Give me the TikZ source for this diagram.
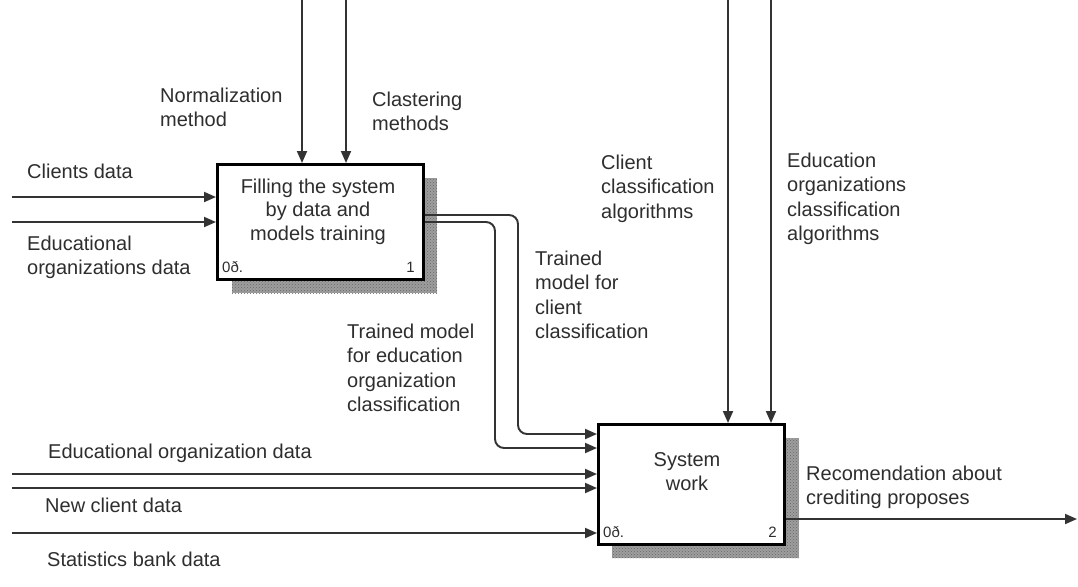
\documentclass[tikz,border=0pt]{standalone}
\usepackage{fontspec}
\setmainfont{Liberation Sans}
\usetikzlibrary{arrows.meta,calc,patterns}
\begin{document}
\begin{tikzpicture}[x=1pt,y=-1pt,
  lbl/.style={anchor=north west,inner sep=0pt,align=left,text=black!82,font=\fontsize{20}{24.5}\selectfont},
  boxtxt/.style={anchor=north,inner sep=0pt,align=center,text=black!82,font=\fontsize{20}{23.5}\selectfont},
  small/.style={inner sep=0pt,text=black!82,font=\fontsize{15}{17}\selectfont},
  actbox/.style={draw=black,line width=2.8pt,fill=white,rectangle,inner sep=0pt},
  shadowbox/.style={fill=black!38},
  conn/.style={draw=black!80,line width=1.9pt,-{Triangle[length=12pt,width=10pt]}},
  plain/.style={draw=black!80,line width=1.9pt}
]
\useasboundingbox[fill=white] (0,0) rectangle (1078,586);

% shadows
\fill[shadowbox] (232,178) rectangle (437,293);
\fill[pattern=crosshatch dots,pattern color=black!60] (232,178) rectangle (437,293);
\fill[shadowbox] (612,438) rectangle (799,558);
\fill[pattern=crosshatch dots,pattern color=black!60] (612,438) rectangle (799,558);

% activity boxes
\node[actbox,anchor=north west,minimum width=206pt,minimum height=115pt] (b1) at (216,163) {};
\node[actbox,anchor=north west,minimum width=186pt,minimum height=120pt] (b2) at (597,423) {};

% box texts
\node[boxtxt] (b1t) at (318,178.5) {Filling the system\\by data and\\models training};
\node[small,anchor=base west] (b1l) at (222,272) {0ð.};
\node[small,anchor=base east] (b1r) at (415,272) {1};
\node[boxtxt] (b2t) at (687,452.5) {System\\work};
\node[small,anchor=base west] (b2l) at (603,537) {0ð.};
\node[small,anchor=base east] (b2r) at (777,537) {2};

% free ends
\coordinate (m1) at (302,0);
\coordinate (m2) at (346,0);
\coordinate (i1) at (12,197);
\coordinate (i2) at (12,222);
\coordinate (m3) at (728,0);
\coordinate (m4) at (771,0);
\coordinate (i3) at (12,474);
\coordinate (i4) at (12,488);
\coordinate (i5) at (12,533);
\coordinate (o1) at (1077,519);

% connectors into box 1
\draw[conn] (m1) -- ($(b1.north west)+(86,0)$);
\draw[conn] (m2) -- ($(b1.north west)+(130,0)$);
\draw[conn] (i1) -- ($(b1.north west)+(0,34)$);
\draw[conn] (i2) -- ($(b1.north west)+(0,59)$);

% box 1 outputs to box 2
\draw[conn,rounded corners=9pt] ($(b1.north east)+(0,52)$) -| ($(b2.north west)+(-79,11)$) -- ($(b2.north west)+(0,11)$);
\draw[conn,rounded corners=9pt] ($(b1.north east)+(0,59)$) -| ($(b2.north west)+(-102,25)$) -- ($(b2.north west)+(0,25)$);

% connectors into box 2
\draw[conn] (m3) -- ($(b2.north west)+(131,0)$);
\draw[conn] (m4) -- ($(b2.north west)+(174,0)$);
\draw[conn] (i3) -- ($(b2.north west)+(0,51)$);
\draw[conn] (i4) -- ($(b2.north west)+(0,65)$);
\draw[conn] (i5) -- ($(b2.north west)+(0,110)$);

% output
\draw[conn] ($(b2.north east)+(0,96)$) -- (o1);

% labels
\node[lbl] (l1) at (160,87.5) {Normalization\\method};
\node[lbl] (l2) at (372,91.5) {Clastering\\methods};
\node[lbl] (l3) at (27,163.5) {Clients data};
\node[lbl] (l4) at (27,235.5) {Educational\\organizations data};
\node[lbl] (l5) at (601,154.5) {Client\\classification\\algorithms};
\node[lbl] (l6) at (787,152.5) {Education\\organizations\\classification\\algorithms};
\node[lbl] (l7) at (535,250.5) {Trained\\model for\\client\\classification};
\node[lbl] (l8) at (347,323.5) {Trained model\\for education\\organization\\classification};
\node[lbl] (l9) at (48,443.5) {Educational organization data};
\node[lbl] (l10) at (45,497.5) {New client data};
\node[lbl] (l11) at (47,551.5) {Statistics bank data};
\node[lbl] (l12) at (806,465.5) {Recomendation about\\crediting proposes};
\end{tikzpicture}
\end{document}
